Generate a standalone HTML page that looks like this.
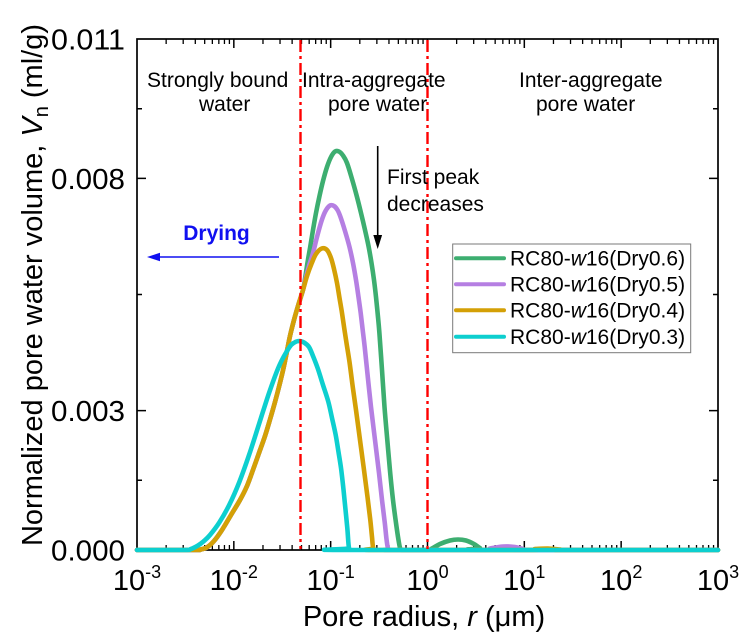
<!DOCTYPE html>
<html><head><meta charset="utf-8"><style>
html,body{margin:0;padding:0;background:#fff;}
svg{display:block;}
text{font-family:"Liberation Sans",Arial,sans-serif;fill:#000;}
</style></head><body>
<svg id="chart" width="744" height="642" viewBox="0 0 744 642" xmlns="http://www.w3.org/2000/svg">
<rect x="0" y="0" width="744" height="642" fill="#fff"/>
<!-- frame -->
<rect x="137" y="39" width="581" height="511" fill="none" stroke="#000" stroke-width="1.7"/>
<!-- x ticks major -->
<path stroke="#000" stroke-width="1.5" fill="none" d="M233.83,550v-9M330.66,550v-9M427.49,550v-9M524.32,550v-9M621.15,550v-9M233.83,39v9M330.66,39v9M427.49,39v9M524.32,39v9M621.15,39v9"/>
<!-- x ticks minor -->
<path stroke="#000" stroke-width="1.3" fill="none" d="
M166.15,550v-5M183.2,550v-5M195.3,550v-5M204.68,550v-5M212.35,550v-5M218.83,550v-5M224.45,550v-5M229.4,550v-5
M262.98,550v-5M280.03,550v-5M292.13,550v-5M301.51,550v-5M309.18,550v-5M315.66,550v-5M321.28,550v-5M326.23,550v-5
M359.81,550v-5M376.86,550v-5M388.96,550v-5M398.34,550v-5M406.01,550v-5M412.49,550v-5M418.11,550v-5M423.06,550v-5
M456.64,550v-5M473.69,550v-5M485.79,550v-5M495.17,550v-5M502.84,550v-5M509.32,550v-5M514.94,550v-5M519.89,550v-5
M553.47,550v-5M570.52,550v-5M582.62,550v-5M592,550v-5M599.67,550v-5M606.15,550v-5M611.77,550v-5M616.72,550v-5
M650.3,550v-5M667.35,550v-5M679.45,550v-5M688.83,550v-5M696.5,550v-5M702.98,550v-5M708.6,550v-5M713.55,550v-5
M166.15,39v5M183.2,39v5M195.3,39v5M204.68,39v5M212.35,39v5M218.83,39v5M224.45,39v5M229.4,39v5
M262.98,39v5M280.03,39v5M292.13,39v5M301.51,39v5M309.18,39v5M315.66,39v5M321.28,39v5M326.23,39v5
M359.81,39v5M376.86,39v5M388.96,39v5M398.34,39v5M406.01,39v5M412.49,39v5M418.11,39v5M423.06,39v5
M456.64,39v5M473.69,39v5M485.79,39v5M495.17,39v5M502.84,39v5M509.32,39v5M514.94,39v5M519.89,39v5
M553.47,39v5M570.52,39v5M582.62,39v5M592,39v5M599.67,39v5M606.15,39v5M611.77,39v5M616.72,39v5
M650.3,39v5M667.35,39v5M679.45,39v5M688.83,39v5M696.5,39v5M702.98,39v5M708.6,39v5M713.55,39v5"/>
<!-- y ticks -->
<path stroke="#000" stroke-width="1.5" fill="none" d="M137,410.6h9M137,178.4h9M718,410.6h-9M718,178.4h-9M137,480.3h5M137,294.5h5M137,108.7h5M718,480.3h-5M718,294.5h-5M718,108.7h-5"/>

<!-- curves -->
<g fill="none" stroke-width="4.6" stroke-linejoin="round" stroke-linecap="round">
<polyline class="c" stroke="#3DAE70" points="137,550 194,550 200,549.6 206.7,547.5 214,541 222,530 231,515 240,500 247,486 253.3,469 259,453 265,436 270,419.5 275,402 279.2,386 283.3,369 286.8,352 290,336 294,320 298.3,305 303,290 305.3,277 307.6,262 310.2,247 313,230 316,213 319.5,196 323,181 327,167 331,157 335,151.5 339,151.5 343,155.5 347,163 352,179 357,197 361,213 365,230 368.5,246 371.5,263 374,280 376,297 377.8,315 379.4,333 382,370 384.5,407 387.3,440 390.2,473 393,500 396,523 398.5,540 400.5,549 404,550 427,550 432,548.5 440,544 450,540.5 458,539.5 466,540.5 474,544 480,548 486,550 718,550"/>
<polyline class="c" stroke="#B57FE2" points="137,550 194,550 200,549.6 206.7,547.5 214,541 222,530 231,515 240,500 247,486 253.3,469 259,453 265,436 270,419.5 275,402 279.2,386 283.3,369 286.8,352 290,336 294,320 298.3,305 303,290 305.5,279 309,266 313,253 317,237 321.5,221 325.5,211 330,205.5 334,206 337.5,210 340.5,217 345,231 349.5,247 353,263 356,280 358.5,297 360.7,313 362.7,330 364.7,347 367.8,377 371,407 375,440 379,473 382,500 384.8,523 386.6,540 388.3,549 392,550 483,550 490,548.5 503,546.5 515,547 523,549 528,550 718,550"/>
<polyline class="c" stroke="#D4A006" points="137,550 194,550 200,549.6 206.7,547.5 214,541 222,530 231,515 240,500 247,486 253.3,469 259,453 265,436 270,419.5 275,402 279.2,386 283.3,369 286.8,352 290,336 294,320 298.3,305 303,290 307,276 311.7,263.3 316,254 321.7,248.5 327,250 331,258 334,269 337,283 339.5,298 342,313 344.2,328 346.5,343 349.5,362 352.5,385 356,410 360,440 364,470 367.5,497 370.3,520 372,537 373.3,548 377,550 525,550 535,549 548,548.5 560,549.5 568,550 718,550"/>
<polyline class="c" stroke="#0DCFCF" points="137,550 184,550 191,549 198,545.5 204,541 210,535 219.3,522.5 229.3,504.8 239.3,482.1 249.3,454.3 259.3,423.2 269.3,392.2 279.3,365.6 289.3,347.4 294.5,342.5 299.3,341 304,342.5 309,347 313,356 317.7,368.3 323,385 328.3,401.7 332,418 335.7,435 338.5,452 341,468 343,485 344.7,501.7 347.3,528 349,548 352,550 718,550"/>
</g>

<!-- red dash-dot lines -->
<g stroke="#FF0000" stroke-width="2.4" fill="none" stroke-dasharray="12,4,3,4">
<line x1="300.5" y1="40" x2="300.5" y2="549"/>
<line x1="427.5" y1="40" x2="427.5" y2="549"/>
</g>

<!-- y tick labels -->
<g font-size="29" text-anchor="end">
<text x="125" y="49.5" textLength="74" lengthAdjust="spacingAndGlyphs">0.011</text>
<text x="125" y="189" textLength="74" lengthAdjust="spacingAndGlyphs">0.008</text>
<text x="125" y="421" textLength="74" lengthAdjust="spacingAndGlyphs">0.003</text>
<text x="125" y="560.5" textLength="74" lengthAdjust="spacingAndGlyphs">0.000</text>
</g>
<!-- x tick labels -->
<g font-size="29" text-anchor="middle">
<text x="137" y="590">10<tspan font-size="18" dy="-12">-3</tspan></text>
<text x="233.8" y="590">10<tspan font-size="18" dy="-12">-2</tspan></text>
<text x="330.7" y="590">10<tspan font-size="18" dy="-12">-1</tspan></text>
<text x="427.5" y="590">10<tspan font-size="18" dy="-12">0</tspan></text>
<text x="524.3" y="590">10<tspan font-size="18" dy="-12">1</tspan></text>
<text x="621.2" y="590">10<tspan font-size="18" dy="-12">2</tspan></text>
<text x="718" y="590">10<tspan font-size="18" dy="-12">3</tspan></text>
</g>
<!-- axis titles -->
<text x="424" y="626" font-size="29" text-anchor="middle">Pore radius, <tspan font-style="italic">r</tspan> (μm)</text>
<text transform="translate(42,285) rotate(-90)" font-size="29" text-anchor="middle">Normalized pore water volume, <tspan font-style="italic">V</tspan><tspan font-size="20" dy="6">n</tspan><tspan dy="-6"> (ml/g)</tspan></text>

<!-- region annotations -->
<g font-size="21">
<text x="147" y="87">Strongly bound</text>
<text x="199" y="111">water</text>
<text x="302" y="87">Intra-aggregate</text>
<text x="328" y="111">pore water</text>
<text x="519" y="87">Inter-aggregate</text>
<text x="536" y="111">pore water</text>
<text x="387" y="184">First peak</text>
<text x="387" y="211">decreases</text>
</g>
<!-- black arrow -->
<line x1="377.7" y1="146" x2="377.7" y2="238" stroke="#000" stroke-width="1.6"/>
<polygon points="373.3,235 382.1,235 377.7,249" fill="#000"/>
<!-- Drying -->
<text x="216.5" y="240" font-size="21" font-weight="bold" text-anchor="middle" style="fill:#1010F0">Drying</text>
<line x1="279" y1="257" x2="158" y2="257" stroke="#1010F0" stroke-width="1.6"/>
<polygon points="160,252.8 160,261.2 147,257" fill="#1010F0"/>

<!-- legend -->
<rect x="452.7" y="244" width="238" height="108.7" fill="#fff" stroke="#7a7a7a" stroke-width="1"/>
<g stroke-width="4" stroke-linecap="round">
<line x1="456" y1="258.3" x2="504" y2="258.3" stroke="#3DAE70"/>
<line x1="456" y1="284.3" x2="504" y2="284.3" stroke="#B57FE2"/>
<line x1="456" y1="310.3" x2="504" y2="310.3" stroke="#D4A006"/>
<line x1="456" y1="336.7" x2="504" y2="336.7" stroke="#0DCFCF"/>
</g>
<g font-size="21">
<text x="510" y="265.5">RC80-<tspan font-style="italic">w</tspan>16(Dry0.6)</text>
<text x="510" y="291.5">RC80-<tspan font-style="italic">w</tspan>16(Dry0.5)</text>
<text x="510" y="317.5">RC80-<tspan font-style="italic">w</tspan>16(Dry0.4)</text>
<text x="510" y="343.8">RC80-<tspan font-style="italic">w</tspan>16(Dry0.3)</text>
</g>
</svg>
<script>
(function(){
  try{
    var ns="http://www.w3.org/2000/svg";
    var pls=document.querySelectorAll("polyline.c");
    for(var k=0;k<pls.length;k++){
      var pl=pls[k];
      var raw=pl.getAttribute("points").trim().split(/\s+/);
      var p=raw.map(function(s){var a=s.split(",");return [parseFloat(a[0]),parseFloat(a[1])];});
      var d="M"+p[0][0]+","+p[0][1];
      for(var i=0;i<p.length-1;i++){
        var p0=p[i>0?i-1:0],p1=p[i],p2=p[i+1],p3=p[i+2<p.length?i+2:p.length-1];
        var c1x=p1[0]+(p2[0]-p0[0])/6,c1y=p1[1]+(p2[1]-p0[1])/6;
        var c2x=p2[0]-(p3[0]-p1[0])/6,c2y=p2[1]-(p3[1]-p1[1])/6;
        c1y=Math.min(c1y,550);c2y=Math.min(c2y,550);
        d+="C"+c1x.toFixed(2)+","+c1y.toFixed(2)+" "+c2x.toFixed(2)+","+c2y.toFixed(2)+" "+p2[0]+","+p2[1];
      }
      var path=document.createElementNS(ns,"path");
      path.setAttribute("d",d);
      path.setAttribute("stroke",pl.getAttribute("stroke"));
      pl.parentNode.insertBefore(path,pl);
      pl.parentNode.removeChild(pl);
    }
  }catch(e){}
})();
</script>
</body></html>
